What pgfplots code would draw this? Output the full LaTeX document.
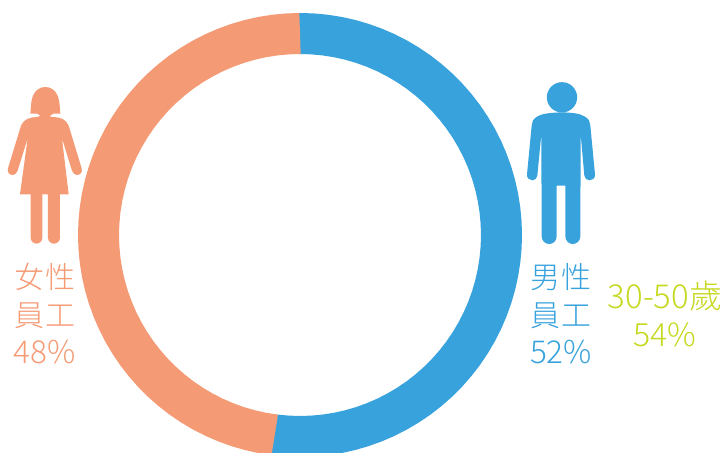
\documentclass[border=0pt]{standalone}
\usepackage{pgfplots}
\pgfplotsset{compat=1.18}
\usepgfplotslibrary{polar}
\usepackage{fontspec}
\setmainfont{Noto Sans CJK TC Light}
\definecolor{cOrange}{HTML}{F49B76}
\definecolor{cBlue}{HTML}{38A2DD}
\definecolor{cLime}{HTML}{C6D81F}
\newcommand{\bigf}{\fontsize{30bp}{36bp}\selectfont}
\begin{document}
\begin{tikzpicture}[x=1bp,y=1bp]
\begin{axis}[
  at={(0,0)},anchor=south west,
  scale only axis,width=725bp,height=453bp,
  axis lines=none,
  xmin=-300,xmax=425,ymin=-218,ymax=235,
  clip=true
]
% share 52% (male), 48% (female), ring radius 201.5, clockwise from top
\addplot[data cs=polar,no markers,color=cBlue,line width=41bp,line cap=butt,line join=round] coordinates {
(90.3,201.5)(90,201.5)(86.4,201.5)(82.8,201.5)(79.2,201.5)(75.6,201.5)(72,201.5)(68.4,201.5)(64.8,201.5)(61.2,201.5)(57.6,201.5)(54,201.5)(50.4,201.5)(46.8,201.5)(43.2,201.5)(39.6,201.5)(36,201.5)(32.4,201.5)(28.8,201.5)(25.2,201.5)(21.6,201.5)(18,201.5)(14.4,201.5)(10.8,201.5)(7.2,201.5)(3.6,201.5)(0,201.5)
(-3.6,201.5)(-7.2,201.5)(-10.8,201.5)(-14.4,201.5)(-18,201.5)(-21.6,201.5)(-25.2,201.5)(-28.8,201.5)(-32.4,201.5)(-36,201.5)(-39.6,201.5)(-43.2,201.5)(-46.8,201.5)(-50.4,201.5)(-54,201.5)(-57.6,201.5)(-61.2,201.5)(-64.8,201.5)(-68.4,201.5)(-72,201.5)(-75.6,201.5)(-79.2,201.5)(-82.8,201.5)(-86.4,201.5)(-90,201.5)(-93.6,201.5)(-97.2,201.5)(-97.5,201.5)
};
\addplot[data cs=polar,no markers,color=cOrange,line width=41bp,line cap=butt,line join=round] coordinates {
(-97.2,201.5)(-100.8,201.5)(-104.4,201.5)(-108,201.5)(-111.6,201.5)(-115.2,201.5)(-118.8,201.5)(-122.4,201.5)(-126,201.5)(-129.6,201.5)(-133.2,201.5)(-136.8,201.5)(-140.4,201.5)(-144,201.5)(-147.6,201.5)(-151.2,201.5)(-154.8,201.5)(-158.4,201.5)(-162,201.5)(-165.6,201.5)(-169.2,201.5)(-172.8,201.5)(-176.4,201.5)(-180,201.5)(-183.6,201.5)(-187.2,201.5)(-190.8,201.5)(-194.4,201.5)(-198,201.5)(-201.6,201.5)(-205.2,201.5)(-208.8,201.5)(-212.4,201.5)(-216,201.5)(-219.6,201.5)(-223.2,201.5)(-226.8,201.5)(-230.4,201.5)(-234,201.5)(-237.6,201.5)(-241.2,201.5)(-244.8,201.5)(-248.4,201.5)(-252,201.5)(-255.6,201.5)(-259.2,201.5)(-262.8,201.5)(-266.4,201.5)(-270,201.5)
};
\end{axis}
% woman icon: zoom coords, offset (0,75)
\begin{scope}[shift={(0bp,378bp)},x=0.33333bp,y=-0.33333bp]
\fill[cOrange] (91,116) .. controls (93,95) and (93,75) .. (99,62) .. controls (106,44) and (122,36) .. (136,36)
  .. controls (150,36) and (166,44) .. (173,62) .. controls (179,75) and (179,95) .. (181,116)
  -- (160,116) -- (150,123) -- (122,123) -- (112,116) -- cycle;
\fill[cOrange] (125,122) -- (147,122) .. controls (150,125) and (154,126) .. (160,126)
  .. controls (180,127) and (198,132) .. (206,152) -- (245,280)
  .. controls (249,292) and (240,300) .. (231,300) .. controls (224,300) and (219,295) .. (216,287)
  -- (186,190) -- (206,358) -- (60,358) -- (83,190) -- (53,287)
  .. controls (50,295) and (45,300) .. (38,300) .. controls (29,300) and (20,292) .. (24,280)
  -- (63,152) .. controls (71,132) and (90,127) .. (110,126) .. controls (116,126) and (120,125) .. (125,122) -- cycle;
\fill[cOrange] (92,356) -- (127,356) -- (127,488) .. controls (127,498) and (119,506) .. (109.5,506) .. controls (100,506) and (92,498) .. (92,488) -- cycle;
\fill[cOrange] (144,356) -- (180,356) -- (180,488) .. controls (180,498) and (172,506) .. (162,506) .. controls (152,506) and (144,498) .. (144,488) -- cycle;
\end{scope}
% man icon: zoom coords, offset (515,75)
\begin{scope}[shift={(515bp,378bp)},x=0.33333bp,y=-0.33333bp]
\fill[cBlue] (141,67) ellipse[x radius=45.5,y radius=45.5];
\fill[cBlue] (141,112) .. controls (110,113) and (82,115) .. (66,125) .. controls (54,132) and (50,142) .. (50,152)
  -- (36,298) .. controls (35,309) and (43,316) .. (52,316) .. controls (60,316) and (66,310) .. (67,302)
  -- (79,178) -- (80,484) .. controls (80,497) and (90,507) .. (102.5,507) .. controls (115,507) and (125,497) .. (125,484)
  -- (125,332) -- (151,332) -- (151,484) .. controls (151,497) and (161,507) .. (173.5,507)
  .. controls (186,507) and (196,497) .. (196,484) -- (197,178) -- (208,302)
  .. controls (209,310) and (215,316) .. (224,316) .. controls (233,316) and (241,309) .. (240,298)
  -- (226,152) .. controls (226,142) and (222,132) .. (210,125) .. controls (194,115) and (172,113) .. (141,112) -- cycle;
\end{scope}
% labels: pixel coords
\begin{scope}[shift={(0bp,453bp)},x=1bp,y=-1bp,every node/.style={anchor=base,inner sep=0pt,outer sep=0pt}]
\node[text=cOrange] at (45,289) {\bigf 女\kern2bp性};
\node[text=cOrange] at (45,327) {\bigf 員\kern2bp工};
\node[text=cOrange] at (44.5,364) {\fontsize{31.5bp}{36bp}\selectfont 48\%};
\node[text=cBlue] at (561,289) {\bigf 男\kern2bp性};
\node[text=cBlue] at (561,327) {\bigf 員\kern2bp工};
\node[text=cBlue] at (561,364) {\fontsize{31.5bp}{36bp}\selectfont 52\%};
\node[text=cLime] at (665,309) {\fontsize{33bp}{36bp}\selectfont 30-50歲};
\node[text=cLime] at (665,347) {\fontsize{32bp}{36bp}\selectfont 54\%};
\end{scope}
\pgfresetboundingbox
\path[use as bounding box] (0bp,0bp) rectangle (725bp,453bp);
\end{tikzpicture}
\end{document}
